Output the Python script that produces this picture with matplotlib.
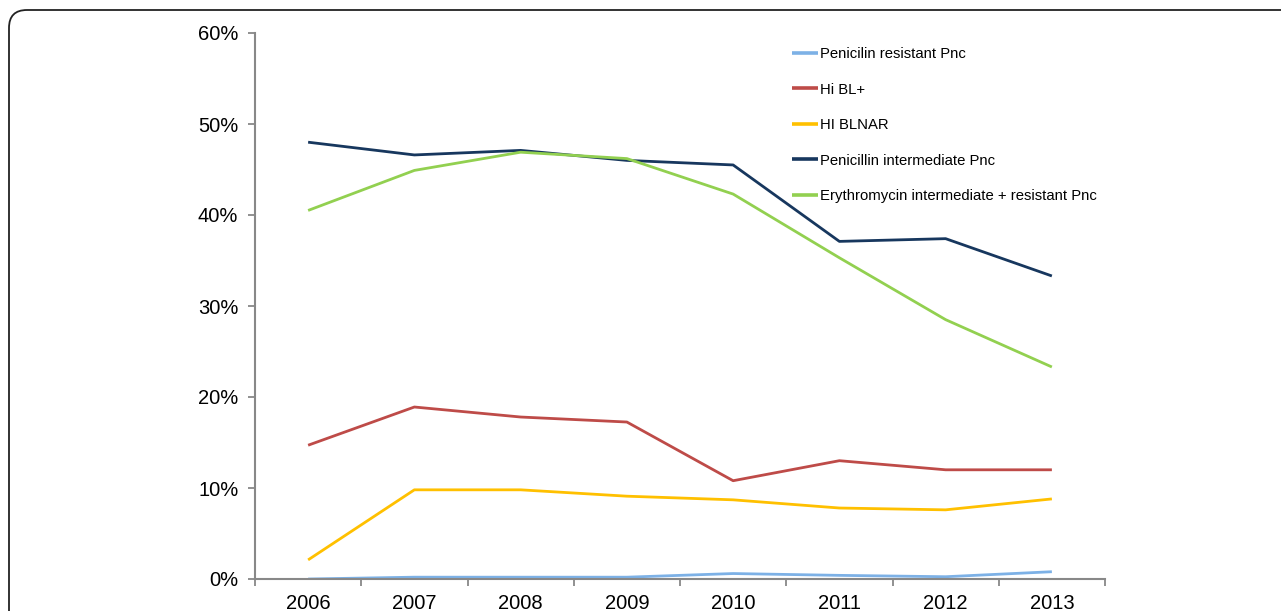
import matplotlib
matplotlib.use("Agg")
import matplotlib.pyplot as plt
from matplotlib.patches import FancyBboxPatch

years = ["2006", "2007", "2008", "2009", "2010", "2011", "2012", "2013"]
pen_resistant = [0.0, 0.2, 0.2, 0.2, 0.6, 0.4, 0.25, 0.8]
hi_bl = [14.7, 18.9, 17.8, 17.25, 10.8, 13.0, 12.0, 12.0]
hi_blnar = [2.1, 9.8, 9.8, 9.1, 8.7, 7.8, 7.6, 8.8]
pen_intermediate = [48.0, 46.6, 47.1, 46.0, 45.5, 37.1, 37.4, 33.3]
ery = [40.5, 44.9, 46.9, 46.2, 42.3, 35.3, 28.5, 23.3]

labels = ["Penicilin resistant Pnc", "Hi BL+", "HI BLNAR",
          "Penicillin intermediate Pnc", "Erythromycin intermediate + resistant Pnc"]
colors = ["#7DB1E6", "#BE4B48", "#FFC000", "#17375E", "#92D050"]
series = [pen_resistant, hi_bl, hi_blnar, pen_intermediate, ery]

plt.rcParams['font.family'] = ['Liberation Sans', 'DejaVu Sans']

fig = plt.figure(figsize=(12.81, 6.11), dpi=100)
border = FancyBboxPatch((9/1281, -0.2), 1.2, 1 - 10/611 + 0.2,
                        boxstyle="round,pad=0,rounding_size=0.014",
                        transform=fig.transFigure, fill=False,
                        edgecolor="#222222", linewidth=1.3, mutation_aspect=1281/611)
fig.patches.append(border)

ax = fig.add_axes([255/1281, 1 - 579/611, (1105 - 255)/1281, (579 - 33)/611])
x = list(range(len(years)))
for s, lab, c in zip(series, labels, colors):
    ax.plot(x, s, color=c, lw=2.0, label=lab, solid_capstyle='butt')

ax.set_xlim(-0.5, len(years) - 0.5)
ax.set_ylim(0, 60)
ax.set_yticks(range(0, 61, 10))
ax.set_yticklabels([f"{v}%" for v in range(0, 61, 10)])
ax.set_xticks(x)
ax.set_xticklabels(years)
ax.set_xticks([i - 0.5 for i in range(len(years) + 1)], minor=True)
ax.tick_params(axis='x', which='major', length=0, pad=10.5, labelsize=14.5)
ax.tick_params(axis='x', which='minor', length=5, width=1.3, color="#888888", direction='out')
ax.tick_params(axis='y', length=5, width=1.3, color="#888888", labelsize=14.5, pad=7)
for sp in ["top", "right"]:
    ax.spines[sp].set_visible(False)
for sp in ["left", "bottom"]:
    ax.spines[sp].set_color("#888888")
    ax.spines[sp].set_linewidth(1.5)

leg = fig.legend(loc='upper left', bbox_to_anchor=(792/1281, 1 - 47/611),
                 frameon=False, fontsize=10.7, handlelength=1.75, handletextpad=0.12,
                 labelspacing=1.45, borderpad=0, borderaxespad=0)
for h in leg.get_lines():
    h.set_linewidth(2.6)

fig.savefig("out.png", dpi=100)
